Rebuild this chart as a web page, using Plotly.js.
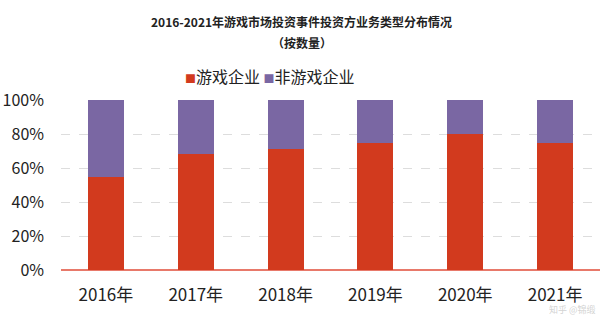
<!DOCTYPE html>
<html>
<head>
<meta charset="utf-8">
<script src="https://cdn.plot.ly/plotly-3.0.1.min.js"></script>
<style>html,body{margin:0;padding:0;background:#fff;}#chart{width:600px;height:318px;}</style>
</head>
<body>
<div id="chart"></div>
<script>
const years = ["2016年", "2017年", "2018年", "2019年", "2020年", "2021年"];
const gameCo = [55, 68, 71, 75, 80, 75];
const nonGameCo = [45, 32, 29, 25, 20, 25];
const seriesNames = ["游戏企业", "非游戏企业"];
const seriesColors = ["#D23A1E", "#7A67A3"];
const tickVals = [0, 20, 40, 60, 80, 100];
const tickText = ["0%", "20%", "40%", "60%", "80%", "100%"];
const titleLines = ["2016-2021年游戏市场投资事件投资方业务类型分布情况", "（按数量）"];

const font = '"Noto Sans CJK SC", "Noto Sans", sans-serif';
const data = [
  {type: 'bar', name: seriesNames[0], x: years, y: gameCo, marker: {color: seriesColors[0]}},
  {type: 'bar', name: seriesNames[1], x: years, y: nonGameCo, marker: {color: seriesColors[1]}}
];
// plot area: y from 100px (top) to 270px (bottom) -> paper coords
const py = p => (270 - p) / 170;
const px = p => (p - 61) / 540;
const legendText = seriesNames.map((n, i) =>
  '<span style="color:' + seriesColors[i] + ';font-size:11px">■</span>' + n).join(' ');
const layout = {
  width: 600, height: 318,
  barmode: 'stack', bargap: 0.6,
  margin: {l: 61, r: 0, t: 100, b: 48},
  paper_bgcolor: '#fff', plot_bgcolor: '#fff',
  font: {family: font, color: '#222'},
  showlegend: false,
  xaxis: {
    type: 'category', tickfont: {size: 17, color: '#222'},
    showgrid: false, showline: false, ticks: '', zeroline: false,
    ticklabelstandoff: 13
  },
  yaxis: {
    range: [0, 100], tickvals: tickVals, ticktext: tickText,
    tickfont: {size: 16, color: '#222'},
    showgrid: true, gridcolor: '#dddddd', griddash: 'dash', gridwidth: 1,
    zeroline: true, zerolinecolor: '#E8796A', zerolinewidth: 1.5,
    showline: false, ticks: '', ticklabelstandoff: 16
  },
  annotations: [
    {text: '<b>' + titleLines[0] + '</b>', xref: 'paper', yref: 'paper', x: px(302), y: py(21), yanchor: 'middle', showarrow: false,
     font: {size: 12, color: '#222', family: font}},
    {text: '<b>' + titleLines[1] + '</b>', xref: 'paper', yref: 'paper', x: px(302), y: py(42), yanchor: 'middle', showarrow: false,
     font: {size: 12, color: '#222', family: font}},
    {text: legendText, xref: 'paper', yref: 'paper', x: px(270), y: py(76), yanchor: 'middle', showarrow: false,
     font: {size: 16, color: '#222', family: font}},
    {text: '知乎 @锦缎', xref: 'paper', yref: 'paper', x: px(598), y: py(317), xanchor: 'right', yanchor: 'bottom', showarrow: false,
     borderpad: 0, font: {size: 9, color: 'rgba(200,200,200,0.8)', family: font}}
  ]
};
Plotly.newPlot('chart', data, layout, {displayModeBar: false, staticPlot: true});
</script>
</body>
</html>
